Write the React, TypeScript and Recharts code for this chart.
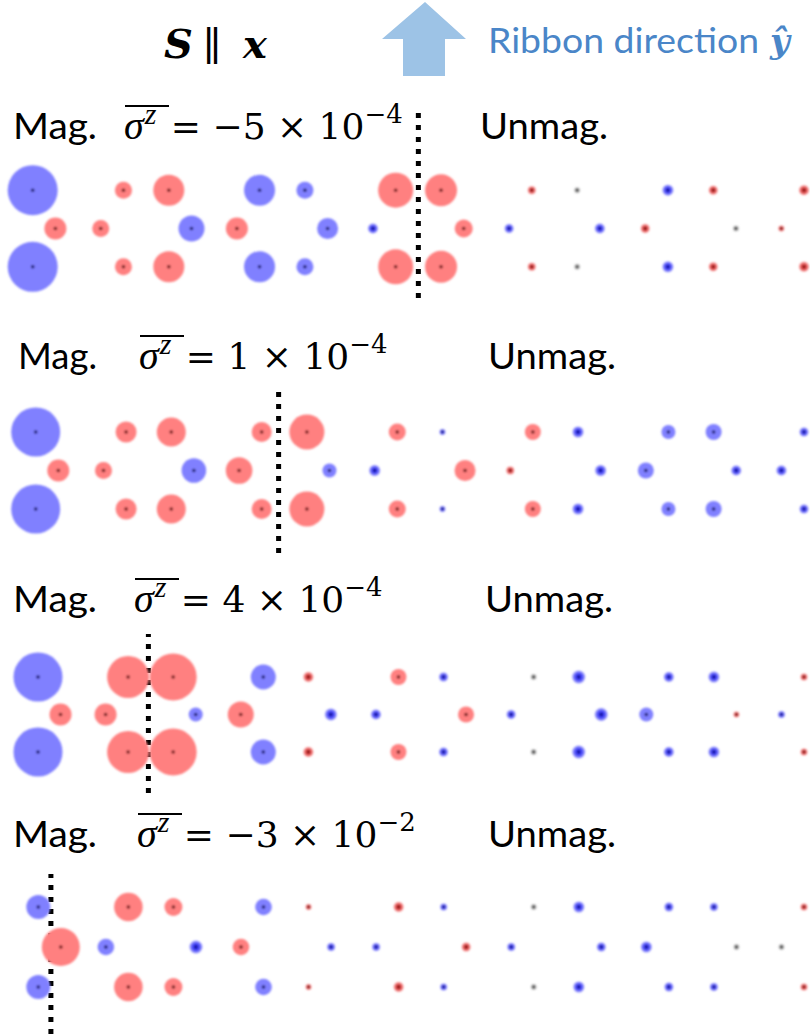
import React from "react";
import { ScatterChart, Scatter, XAxis, YAxis, ReferenceLine } from "recharts";

// lattice columns across the ribbon, in units of a/6
const edgeCols = [0, 4, 6, 10, 12, 16, 18, 22, 24, 28, 30, 34];
const midCols = [1, 3, 7, 9, 13, 15, 19, 21, 25, 27, 31, 33];

// local spin density per site (negative = blue, positive = red), arbitrary units
// edge rows (top and bottom are the same), middle row
const edge1 = [-2.5, 0.85, 1.55, -1.55, -0.85, 1.75, 1.6, 0.4, 0, -0.55, 0.45, 0.5];
const mid1 = [1.1, 0.85, -1.3, 1.1, -1.05, -0.5, 0.9, -0.45, -0.5, 0.45, 0, 0.3];
const edge2 = [-2.45, 1.05, 1.45, 1.0, 1.75, 0.85, -0.3, 0.8, -0.55, -0.7, -0.8, -0.45];
const mid2 = [1.1, 0.85, -1.23, 1.33, -0.7, -0.55, 1.05, 0.4, -0.55, -0.8, -0.5, -0.5];
const edge3 = [-2.45, 2.1, 2.35, -1.25, 0.5, 0.8, -0.45, 0, -0.65, -0.5, -0.55, 0.35];
const mid3 = [1.1, 1.1, -0.7, 1.3, -0.6, -0.5, 0.8, -0.45, -0.65, -0.7, 0.3, -0.35];
const edge4 = [-1.2, 1.43, 0.9, -0.83, 0.3, 0.5, -0.35, 0, -0.55, -0.45, -0.4, 0.35];
const mid4 = [1.9, -0.83, -0.65, 0.83, -0.4, -0.4, 0.45, -0.4, -0.45, -0.55, 0, 0];

// magnetized / unmagnetized interface, in lattice columns
const boundaries = [17, 10.75, 4.9, 0.56];

// mean sigma^z labels
const mantissas = ["\u22125", "1", "4", "\u22123"];
const exponents = ["\u22124", "\u22124", "\u22124", "\u22122"];

const edgeRows = [edge1, edge2, edge3, edge4];
const midRows = [mid1, mid2, mid3, mid4];

const R_SCALE = 10;

// page layout of each panel (px)
const layout = [
  { top: 110, bottom: 298, mid: 228.5, gap: 38.3, x0: 32.7, textY: 139, magX: 13, exprX: 124, unmagX: 480 },
  { top: 392, bottom: 553, mid: 470.5, gap: 38.5, x0: 35.7, textY: 369, magX: 18, exprX: 139, unmagX: 488 },
  { top: 634, bottom: 793, mid: 714.5, gap: 37.5, x0: 38, textY: 612, magX: 13, exprX: 134, unmagX: 485 },
  { top: 874, bottom: 1034, mid: 947, gap: 40, x0: 38.3, textY: 847, magX: 13, exprX: 137, unmagX: 488 }
];

const buildSites = (edge: number[], mid: number[]) => {
  const sites: { x: number; y: number; s: number }[] = [];
  edgeCols.forEach((c, i) => {
    sites.push({ x: c, y: 1, s: edge[i] });
    sites.push({ x: c, y: -1, s: edge[i] });
  });
  midCols.forEach((c, i) => sites.push({ x: c, y: 0, s: mid[i] }));
  return sites;
};

const SiteDot = (props: any) => {
  const { cx, cy, payload } = props;
  const v = payload.s;
  if (v === 0) {
    return (
      <g filter="url(#soft)">
        <circle cx={cx} cy={cy} r={3} fill="url(#gGray)" />
        <circle cx={cx} cy={cy} r={1.4} fill="#333" />
      </g>
    );
  }
  const r = Math.abs(v) * R_SCALE;
  const blue = v < 0;
  const small = r < 7;
  const fill = small ? (blue ? "url(#gBlue)" : "url(#gRed)") : blue ? "#8080ff" : "#ff8080";
  const core = blue ? "#10106a" : "#6a1010";
  return (
    <g filter="url(#soft)">
      <circle cx={cx} cy={cy} r={r} fill={fill} />
      <circle cx={cx} cy={cy} r={small ? 1.4 : 1.8} fill={core} />
    </g>
  );
};

function Panel({ idx }: { idx: number }) {
  const p = layout[idx];
  const s = (804 - p.x0) / 34;
  const xa = -p.x0 / s;
  const xb = xa + 810 / s;
  const yHi = (p.mid - p.top) / p.gap;
  const yLo = -(p.bottom - p.mid) / p.gap;
  const data = buildSites(edgeRows[idx], midRows[idx]);
  return (
    <div style={{ position: "absolute", left: 0, top: p.top }}>
      <ScatterChart
        width={810}
        height={p.bottom - p.top}
        margin={{ top: 0, right: 0, bottom: 0, left: 0 }}
        style={{ overflow: "visible" }}
      >
        <XAxis type="number" dataKey="x" domain={[xa, xb]} hide allowDataOverflow />
        <YAxis type="number" dataKey="y" domain={[yLo, yHi]} hide allowDataOverflow />
        <Scatter data={data} shape={SiteDot} isAnimationActive={false} />
        <ReferenceLine
          x={boundaries[idx]}
          stroke="#000"
          strokeWidth={5}
          strokeDasharray="5 7"
          ifOverflow="visible"
        />
      </ScatterChart>
    </div>
  );
}

export default function App() {
  return (
    <div
      style={{
        position: "absolute",
        left: 0,
        top: 0,
        width: 810,
        height: 1036,
        background: "#fff",
        overflow: "hidden"
      }}
    >
      <svg width={810} height={1036} style={{ position: "absolute", left: 0, top: 0 }}>
        <defs>
          <filter id="soft" x="-50%" y="-50%" width="200%" height="200%">
            <feGaussianBlur stdDeviation="0.8" />
          </filter>
          <radialGradient id="gBlue">
            <stop offset="0%" stopColor="#1a1ae8" />
            <stop offset="45%" stopColor="#3a3af5" />
            <stop offset="100%" stopColor="#a8a8ff" />
          </radialGradient>
          <radialGradient id="gRed">
            <stop offset="0%" stopColor="#b81c1c" />
            <stop offset="45%" stopColor="#d83a3a" />
            <stop offset="100%" stopColor="#ffa8a8" />
          </radialGradient>
          <radialGradient id="gGray">
            <stop offset="0%" stopColor="#555" />
            <stop offset="100%" stopColor="#d8d8d8" />
          </radialGradient>
        </defs>
        {/* title */}
        <text x={164} y={58} fontFamily="DejaVu Serif" fontWeight="bold" fontStyle="italic" fontSize={40}>
          S
        </text>
        <text x={203} y={60} fontFamily="DejaVu Serif" fontSize={40}>
          ∥
        </text>
        <text x={243} y={58} fontFamily="DejaVu Serif" fontWeight="bold" fontStyle="italic" fontSize={40}>
          x
        </text>
        {/* ribbon direction arrow */}
        <polygon
          points="425,2 382,39 403,39 403,76 445,76 445,39 466,39"
          fill="#9dc3e6"
        />
        <text
          x={488}
          y={53}
          fontFamily="Lato"
          fontSize={35}
          fill="#4a86c8"
          textLength={271}
          lengthAdjust="spacingAndGlyphs"
        >
          Ribbon direction
        </text>
        <text x={770} y={53} fontFamily="DejaVu Serif" fontWeight="bold" fontStyle="italic" fontSize={34} fill="#4a86c8">
          ŷ
        </text>
        {layout.map((p, i) => (
          <g key={i}>
            <text
              x={p.magX}
              y={p.textY}
              fontFamily="Lato"
              fontSize={37}
              textLength={i === 1 ? 79 : 84}
              lengthAdjust="spacingAndGlyphs"
            >
              Mag.
            </text>
            <text x={p.exprX} y={p.textY} fontFamily="DejaVu Serif" fontSize={36} style={{ whiteSpace: "pre" }}>
              <tspan fontFamily="Liberation Serif" fontStyle="italic" fontSize={40}>
                σ
              </tspan>
              <tspan fontFamily="Liberation Serif" fontStyle="italic" fontSize={30} dx={1} dy={-15}>
                {"z"}
              </tspan>
              <tspan dx={3} dy={15}>{" = " + mantissas[i] + " \u00d7 10"}</tspan>
              <tspan fontSize={26} dy={-16}>
                {exponents[i]}
              </tspan>
            </text>
            <line
              x1={p.exprX + 1}
              x2={p.exprX + 45}
              y1={p.textY - 33}
              y2={p.textY - 33}
              stroke="#000"
              strokeWidth={2}
            />
            <text
              x={p.unmagX}
              y={p.textY}
              fontFamily="Lato"
              fontSize={37}
              textLength={128}
              lengthAdjust="spacingAndGlyphs"
            >
              Unmag.
            </text>
          </g>
        ))}
      </svg>
      {layout.map((_, i) => (
        <Panel key={i} idx={i} />
      ))}
    </div>
  );
}
